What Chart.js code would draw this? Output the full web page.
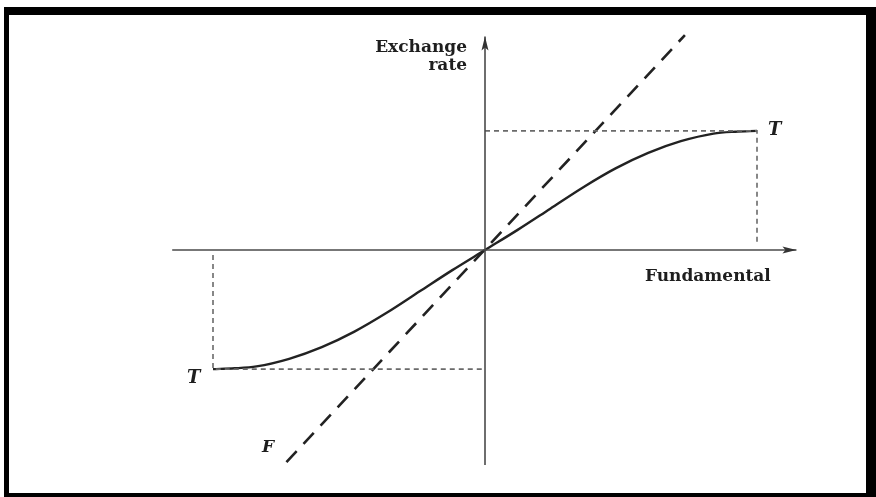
<!DOCTYPE html>
<html>
<head>
<meta charset="utf-8">
<script src="https://cdn.jsdelivr.net/npm/chart.js@4"></script>
<style>
  html, body { margin: 0; padding: 0; background: #fff; }
  #wrap { width: 876px; height: 497px; position: relative; }
</style>
</head>
<body>
<div id="wrap"><canvas id="c"></canvas></div>
<script>
// ---- data (fundamental units; T reached at fundamental = ±10) ----
const curveX = [-10, -9.2, -8.4, -7.2, -6.0, -4.8, -3.6, -2.4, -1.2, 0, 1.2, 2.4, 3.6, 4.8, 6.0, 7.2, 8.4, 9.2, 10];
const curveY = [-4.38, -4.35, -4.28, -4.0, -3.57, -3.0, -2.3, -1.52, -0.74, 0, 0.74, 1.52, 2.3, 3.0, 3.57, 4.0, 4.28, 4.35, 4.38];
const fLineX = [-7.3, 7.35];
const fLineY = [-7.8, 7.9];
const tBandX = [-10, 10];
const tBandY = [-4.38, 4.38];
const axisX = [-11.5, 11.45];
const axisY = [-7.9, 7.85];

const PX = 27.2; // pixels per unit (layout only)
const ORIGIN = { x: 485, y: 250 };

const pts = (xs, ys) => xs.map((x, i) => ({ x, y: ys[i] }));

const labels = [
  { text: 'Exchange', x: -0.66, y: 7.28, align: 'right', font: 'bold 17px "DejaVu Serif"' },
  { text: 'rate', x: -0.66, y: 6.62, align: 'right', font: 'bold 17px "DejaVu Serif"' },
  { text: 'Fundamental', x: 5.88, y: -1.14, align: 'left', font: 'bold 17px "DejaVu Serif"' },
  { text: 'T', x: 10.4, y: 4.23, align: 'left', font: 'italic bold 18px "DejaVu Serif"' },
  { text: 'T', x: -10.96, y: -4.89, align: 'left', font: 'italic bold 18px "DejaVu Serif"' },
  { text: 'F', x: -8.2, y: -7.43, align: 'left', font: 'italic bold 17px "DejaVu Serif"' }
];

const framePlugin = {
  id: 'frame',
  beforeDraw(chart) {
    const ctx = chart.ctx;
    ctx.save();
    ctx.fillStyle = '#ffffff';
    ctx.fillRect(0, 0, 876, 497);
    ctx.fillStyle = '#000000';
    ctx.fillRect(4, 7, 872, 490);
    ctx.fillStyle = '#ffffff';
    ctx.fillRect(9, 15, 857, 478);
    ctx.restore();
  }
};

const decorPlugin = {
  id: 'decor',
  afterDatasetsDraw(chart) {
    const ctx = chart.ctx;
    const xs = chart.scales.x, ys = chart.scales.y;
    ctx.save();
    // arrowheads
    ctx.fillStyle = '#333';
    const tipX = xs.getPixelForValue(axisX[1]), y0 = ys.getPixelForValue(0);
    ctx.beginPath();
    ctx.moveTo(tipX, y0);
    ctx.lineTo(tipX - 14, y0 - 3.5);
    ctx.lineTo(tipX - 11, y0);
    ctx.lineTo(tipX - 14, y0 + 3.5);
    ctx.closePath();
    ctx.fill();
    const x0 = xs.getPixelForValue(0), tipY = ys.getPixelForValue(axisY[1]);
    ctx.beginPath();
    ctx.moveTo(x0, tipY);
    ctx.lineTo(x0 - 3.5, tipY + 14);
    ctx.lineTo(x0, tipY + 11);
    ctx.lineTo(x0 + 3.5, tipY + 14);
    ctx.closePath();
    ctx.fill();
    // labels
    ctx.fillStyle = '#1e1e1e';
    ctx.textBaseline = 'alphabetic';
    labels.forEach(l => {
      ctx.font = l.font;
      ctx.textAlign = l.align;
      ctx.fillText(l.text, xs.getPixelForValue(l.x), ys.getPixelForValue(l.y));
    });
    ctx.restore();
  }
};

const guide = { borderColor: '#6a6a6a', borderWidth: 1.6, borderDash: [5, 4], pointRadius: 0, showLine: true, fill: false };

new Chart(document.getElementById('c'), {
  type: 'scatter',
  data: {
    datasets: [
      { label: 'x-axis', data: pts(axisX, [0, 0]), showLine: true, borderColor: '#4a4a4a', borderWidth: 1.6, pointRadius: 0 },
      { label: 'y-axis', data: pts([0, 0], axisY), showLine: true, borderColor: '#4a4a4a', borderWidth: 1.6, pointRadius: 0 },
      Object.assign({ label: 'upper guide', data: [{ x: 0, y: tBandY[1] }, { x: tBandX[1], y: tBandY[1] }, { x: tBandX[1], y: 0.26 }] }, guide),
      Object.assign({ label: 'lower guide', data: [{ x: tBandX[0], y: -0.18 }, { x: tBandX[0], y: tBandY[0] }, { x: 0, y: tBandY[0] }] }, guide),
      { label: 'F', data: pts(fLineX, fLineY), showLine: true, borderColor: '#222', borderWidth: 2.6, borderDash: [15, 10], pointRadius: 0 },
      { label: 'T', data: pts(curveX, curveY), showLine: true, borderColor: '#222', borderWidth: 2.4, pointRadius: 0, cubicInterpolationMode: 'monotone' }
    ]
  },
  options: {
    responsive: true,
    maintainAspectRatio: false,
    animation: false,
    layout: { padding: 0 },
    plugins: { legend: { display: false }, tooltip: { enabled: false } },
    scales: {
      x: { type: 'linear', display: false, min: -ORIGIN.x / PX, max: (876 - ORIGIN.x) / PX },
      y: { type: 'linear', display: false, min: -(497 - ORIGIN.y) / PX, max: ORIGIN.y / PX }
    }
  },
  plugins: [framePlugin, decorPlugin]
});
</script>
</body>
</html>
